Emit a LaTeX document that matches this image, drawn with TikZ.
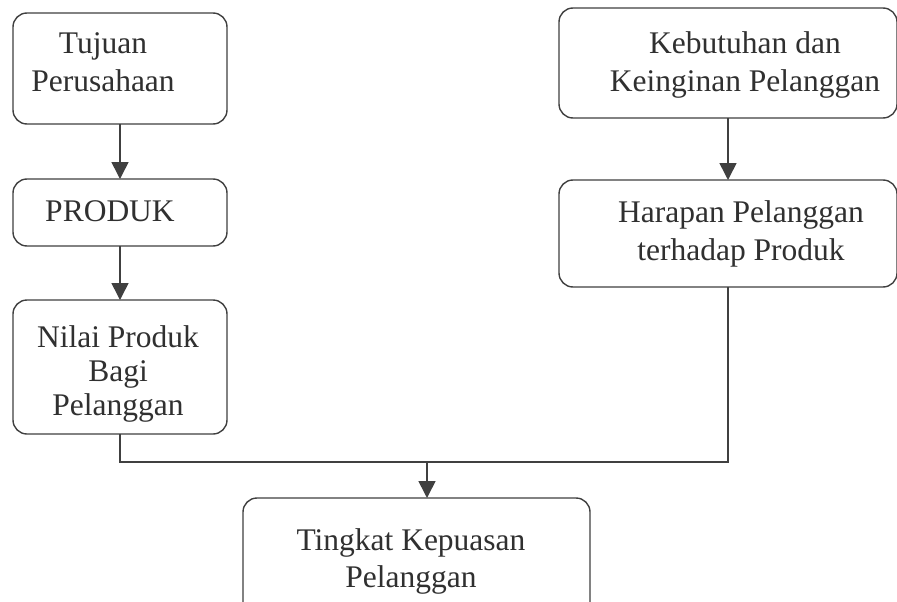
\documentclass[tikz,border=0pt]{standalone}
\usepackage{fontspec}
\setmainfont{Liberation Serif}
\usetikzlibrary{arrows.meta}
\definecolor{ink}{HTML}{303030}
\definecolor{edge}{HTML}{404040}
\tikzset{
  box/.style={draw=edge, line width=1.4pt, rounded corners=14pt, inner sep=0pt, outer sep=0pt, fill=white},
  txt/.style={text=ink, align=center, inner sep=0pt, anchor=north},
  conn/.style={draw=edge, line width=1.6pt},
  arr/.style={conn, -{Triangle[width=17pt,length=17pt]}}
}
\begin{document}
\begin{tikzpicture}[x=1pt,y=-1pt]
\useasboundingbox (0,0) rectangle (897,602);
\clip (0,0) rectangle (897,602);
\fill[white] (0,0) rectangle (897,602);
% boxes
\node[box, minimum width=214pt, minimum height=111pt] (b1) at (120,68.5) {};
\node[box, minimum width=214pt, minimum height=67pt] (b2) at (120,212.5) {};
\node[box, minimum width=214pt, minimum height=134pt] (b3) at (120,367) {};
\node[box, minimum width=338pt, minimum height=110pt] (b4) at (728,63) {};
\node[box, minimum width=338pt, minimum height=107pt] (b5) at (728,233.5) {};
\node[box, minimum width=347pt, minimum height=142pt] (b6) at (416.5,569) {};
% texts
\node[txt, font={\fontsize{31.5}{38}\selectfont}] (t1) at (103,26.4) {\strut Tujuan\\Perusahaan};
\node[txt, font={\fontsize{31.5}{38}\selectfont}] (t2) at (110,194.4) {\strut PRODUK};
\node[txt, font={\fontsize{31.5}{34}\selectfont}] (t3) at (118,323.2) {\strut Nilai Produk\\Bagi\\Pelanggan};
\node[txt, font={\fontsize{31.5}{38}\selectfont}] (t4) at (745,26.4) {\strut Kebutuhan dan\\Keinginan Pelanggan};
\node[txt, font={\fontsize{31.5}{38}\selectfont}] (t5) at (741,195.4) {\strut Harapan Pelanggan\\terhadap Produk};
\node[txt, font={\fontsize{31.5}{37}\selectfont}] (t6) at (411,524.1) {\strut Tingkat Kepuasan\\Pelanggan};
% connectors
\draw[arr] (b1) -- (b2);
\draw[arr] (b2) -- (b3);
\draw[arr] (b4) -- (b5);
\coordinate (j) at (427,462);
\draw[conn] (b3.south) |- (j);
\draw[conn] (b5.south) |- (j);
\draw[arr] (j) -- (j |- b6.north);
\end{tikzpicture}
\end{document}
